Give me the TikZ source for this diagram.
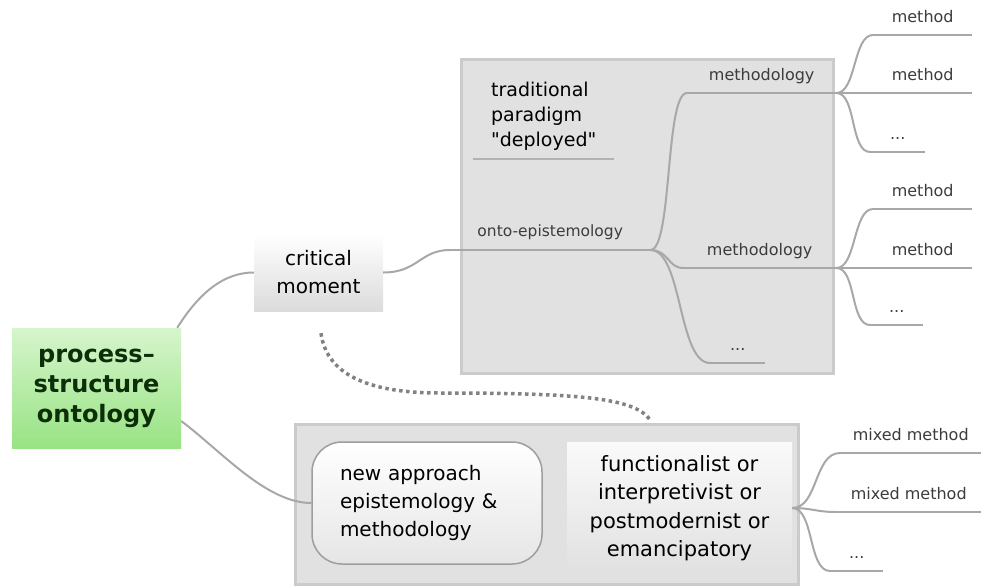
\documentclass[tikz,border=0pt]{standalone}
\usepackage{fontspec}
\setmainfont{DejaVu Sans}[Ligatures=TeXOff]
\usetikzlibrary{calc}
\usetikzlibrary{positioning}
\definecolor{zonefill}{RGB}{225,225,225}
\definecolor{zoneline}{RGB}{203,203,203}
\definecolor{linegray}{RGB}{168,168,168}
\definecolor{labelgray}{RGB}{60,60,60}
\definecolor{dotgray}{RGB}{130,130,130}
\definecolor{greentop}{RGB}{214,245,204}
\definecolor{greenbot}{RGB}{152,227,132}
\definecolor{greentext}{RGB}{12,46,8}
\tikzset{
	zone/.style={
		rectangle,
		draw=zoneline, line width=3pt,
		fill=zonefill},
	rootbox/.style={
		rectangle,
		top color=greentop,
		bottom color=greenbot,
		inner sep=0pt,
		minimum width=169pt,
		minimum height=120pt,
		align=center,
		text=greentext,
		font=\fontsize{24}{30}\selectfont\bfseries},
	topic/.style={
		rectangle,
		top color=white,
		bottom color=black!14,
		inner sep=0pt,
		align=center,
		font=\fontsize{20}{28}\selectfont},
	roundtopic/.style={
		topic,
		rounded corners=30pt,
		draw=black!38, line width=1.5pt,
		bottom color=black!10},
	branch/.style={draw=linegray, line width=2pt},
	dotlink/.style={draw=dotgray, line width=3.5pt, dash pattern=on 3.5pt off 3.5pt},
	leaf/.style={
		rectangle,
		inner sep=0pt,
		anchor=south west,
		text depth=12pt,
		text=labelgray,
		font=\fontsize{16}{19}\selectfont,
		append after command={(\tikzlastnode.south west) edge[branch] (\tikzlastnode.south east)}},
	floating/.style={
		rectangle,
		inner sep=0pt,
		anchor=south west,
		text depth=12pt,
		align=left,
		font=\fontsize{19}{25}\selectfont,
		append after command={(\tikzlastnode.south west) edge[draw=black!30, line width=1.5pt] (\tikzlastnode.south east)}},
}

\begin{document}
\begin{tikzpicture}[x=1pt, y=-1pt]
	\useasboundingbox (0,0) rectangle (981,588);
	\node[zone, minimum width=372pt, minimum height=314pt] (topzone) at (647.5,216.5) {};
	\node[zone, minimum width=503pt, minimum height=160pt] (botzone) at (547,504.5) {};

	\node[rootbox] (root) at (96.5,388) {process–\\structure\\ontology};
	\node[topic, minimum width=129pt, minimum height=77pt] (critical) at (318.5,272.5) {critical\\moment};
	\node[floating, minimum width=141pt] (trad) at (473,159) {traditional\\paradigm\\"deployed"};
	\node[roundtopic, minimum width=230pt, minimum height=122pt, text width=174pt, align=left] (newapp) at (427,503) {new approach\\epistemology \&\\methodology};
	\node[topic, top color=black!2, bottom color=black!12, minimum width=225pt, minimum height=132pt, font=\fontsize{21}{28.5}\selectfont] (func) at (679.5,508) {functionalist or\\interpretivist or\\postmodernist or\\emancipatory};

	% onto-epistemology branch
	\node[leaf, minimum width=200pt, font=\fontsize{15.5}{19}\selectfont, text depth=13pt] (onto) at (450,250) {onto-epistemology};
	\node[leaf, minimum width=149pt] (methA) at (687,93) {methodology};
	\node[leaf, minimum width=153pt] (methB) at (683,268) {methodology};
	\node[leaf, minimum width=55pt] (ontodots) at (710,363) {...};
	\node[leaf, minimum width=99pt] (methA1) at (873,35) {method};
	\node[leaf, minimum width=99pt] (methA2) at (873,93) {method};
	\node[leaf, minimum width=55pt] (methA3) at (870,152) {...};
	\node[leaf, minimum width=99pt] (methB1) at (873,209) {method};
	\node[leaf, minimum width=99pt] (methB2) at (873,268) {method};
	\node[leaf, minimum width=53pt] (methB3) at (870,325) {...};
	\node[leaf, minimum width=141pt] (mixA) at (840,453) {mixed method};
	\node[leaf, minimum width=145pt] (mixB) at (836,512) {mixed method};
	\node[leaf, minimum width=53pt] (mixC) at (830,571) {...};

	\draw[branch] ($(root.north east)+(-4,0)$) .. controls +(22,-35) and +(-30,0) .. (critical.west);
	\draw[branch] ($(root.east)+(0,33)$) .. controls +(40,30) and +(-45,0) .. (newapp.west);
	\draw[branch] (critical.east) .. controls +(35,0) and +(-30,0) .. (onto.south west);
	\draw[branch] (onto.south east) .. controls +(22,0) and +(-22,0) .. (methA.south west);
	\draw[branch] (onto.south east) .. controls +(18,0) and +(-15,0) .. (methB.south west);
	\draw[branch] (onto.south east) .. controls +(32,0) and +(-32,0) .. (ontodots.south west);
	\draw[branch] (methA.south east) .. controls +(20,0) and +(-20,0) .. (methA1.south west);
	\draw[branch] (methA.south east) -- (methA2.south west);
	\draw[branch] (methA.south east) .. controls +(20,0) and +(-20,0) .. (methA3.south west);
	\draw[branch] (methB.south east) .. controls +(20,0) and +(-20,0) .. (methB1.south west);
	\draw[branch] (methB.south east) -- (methB2.south west);
	\draw[branch] (methB.south east) .. controls +(20,0) and +(-20,0) .. (methB3.south west);
	\draw[branch] (func.east) .. controls +(26,0) and +(-26,0) .. (mixA.south west);
	\draw[branch] (func.east) .. controls +(20,0) and +(-20,0) .. (mixB.south west);
	\draw[branch] (func.east) .. controls +(22,0) and +(-22,0) .. (mixC.south west);

	\draw[dotlink] ($(critical.south)+(2.5,22)$) .. controls (327,378) and (375,393) .. (440,393)
		.. controls (580,393) and (635,398) .. ($(func.north)+(-29.5,-22)$);
\end{tikzpicture}
\end{document}
